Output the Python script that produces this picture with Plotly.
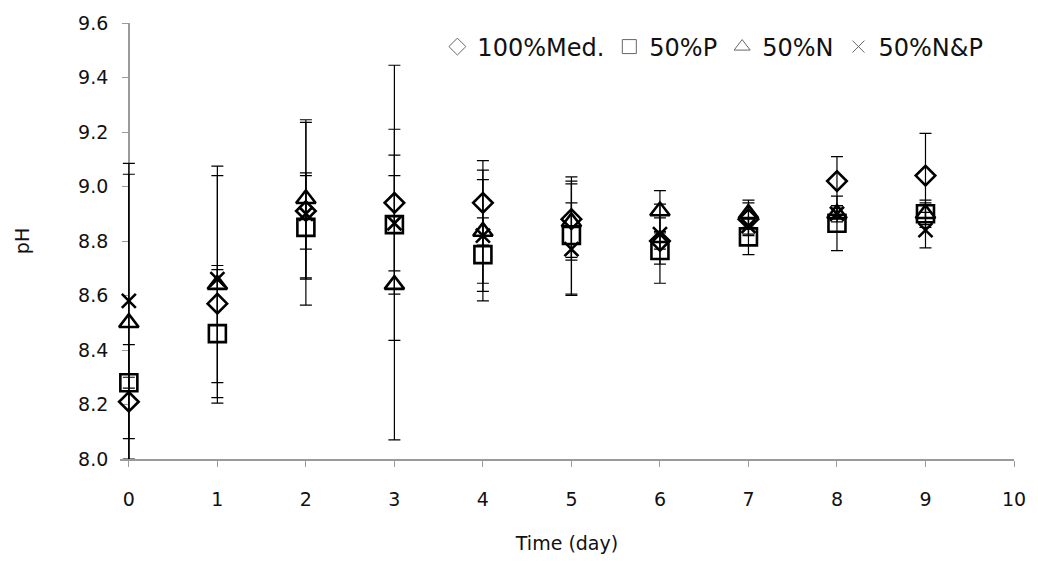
import plotly.graph_objects as go

days = [0, 1, 2, 3, 4, 5, 6, 7, 8, 9]

med100 = [8.21, 8.57, 8.91, 8.94, 8.94, 8.88, 8.80, 8.88, 9.02, 9.04]
med100_err = [0.21, 0.14, 0.14, 0.505, 0.155, 0.14, 0.03, 0.06, 0.09, 0.155]

p50 = [8.28, 8.46, 8.85, 8.86, 8.75, 8.82, 8.765, 8.815, 8.865, 8.90]
p50_err = [0.02, 0.235, 0.19, 0.255, 0.135, 0.215, 0.12, 0.065, 0.10, 0.05]

n50 = [8.50, 8.64, 8.955, 8.64, 8.835, 8.87, 8.91, 8.90, 8.90, 8.90]
n50_err = [0.545, 0.435, 0.29, 0.57, 0.19, 0.14, 0.075, 0.05, 0.03, 0.04]

np50 = [8.58, 8.66, 8.90, 8.865, 8.82, 8.77, 8.825, 8.855, 8.90, 8.84]
np50_err = [0.505, 0.38, 0.335, 0.175, 0.24, 0.17, 0.11, 0.03, 0.02, 0.065]

series = [
    ("100%Med.", med100, med100_err, "diamond-open", 15, 13),
    ("50%P", p50, p50_err, "square-open", 17, 14),
    ("50%N", n50, n50_err, "triangle-up-open", 17, 14),
    ("50%N&P", np50, np50_err, "x-thin-open", 14, 12),
]

Y_MIN, Y_MAX = 8.0, 9.6
X_LO, X_HI = -0.1, 10  # small pad on the left so the day-0 error bars are not cut
FONT = "DejaVu Sans"
fig = go.Figure()

# error bars
for name, ys, errs, sym, size, lsize in series:
    fig.add_trace(go.Scatter(
        x=days, y=ys, mode="markers",
        marker=dict(size=1, color="rgba(0,0,0,0)"),
        error_y=dict(type="data", array=errs, visible=True, color="black",
                     thickness=1.2, width=6),
        showlegend=False, hoverinfo="skip",
    ))

# markers
for name, ys, errs, sym, size, lsize in series:
    fig.add_trace(go.Scatter(
        x=days, y=ys, mode="markers", name=name,
        marker=dict(symbol=sym, size=size, color="black",
                    line=dict(color="black", width=2.6)),
        showlegend=False, cliponaxis=False,
    ))

# legend entries
for name, ys, errs, sym, size, lsize in series:
    fig.add_trace(go.Scatter(
        x=[None], y=[None], mode="markers", name=name,
        marker=dict(symbol=sym, size=lsize, color="#666666",
                    line=dict(color="#666666", width=1)),
        showlegend=True,
    ))

yaxis_pos = (0 - X_LO) / (X_HI - X_LO)

fig.update_layout(
    width=1038, height=563,
    margin=dict(l=120, r=20, t=22, b=101),
    paper_bgcolor="white", plot_bgcolor="white",
    font=dict(family=FONT, size=19, color="#111111"),
    legend=dict(orientation="h", x=0.355, y=0.945, xanchor="left", yanchor="middle",
                bgcolor="rgba(0,0,0,0)", font=dict(family=FONT, size=24),
                itemwidth=30, tracegroupgap=0),
    xaxis=dict(range=[X_LO, X_HI], tickmode="array", tickvals=list(range(0, 11)),
               ticktext=[str(v) for v in range(0, 11)], layer="below traces",
               showgrid=False, zeroline=False, showline=True, linecolor="#9a9a9a",
               linewidth=1.5, mirror=False, ticks="outside", ticklen=6, tickcolor="#9a9a9a",
               tickfont=dict(family=FONT, size=19), ticklabelstandoff=16,
               title=dict(text="Time (day)", font=dict(family=FONT, size=19), standoff=28)),
    yaxis=dict(range=[Y_MIN, Y_MAX], tickmode="array", anchor="free", position=yaxis_pos,
               tickvals=[8.0, 8.2, 8.4, 8.6, 8.8, 9.0, 9.2, 9.4, 9.6],
               ticktext=["8.0", "8.2", "8.4", "8.6", "8.8", "9.0", "9.2", "9.4", "9.6"],
               layer="below traces",
               showgrid=False, zeroline=False, showline=True, linecolor="#9a9a9a",
               linewidth=1.5, mirror=True, ticks="outside", ticklen=6, tickcolor="#9a9a9a",
               tickfont=dict(family=FONT, size=19), ticklabelstandoff=10,
               title=dict(text="pH", font=dict(family=FONT, size=19), standoff=42)),
)

fig.write_html("out.html")
